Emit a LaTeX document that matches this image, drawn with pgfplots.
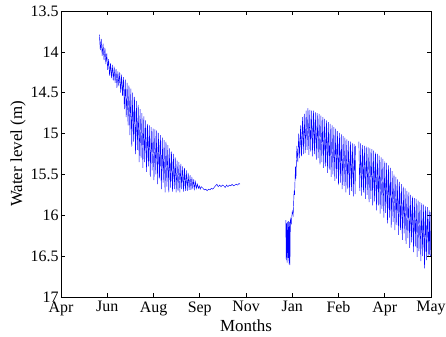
\documentclass[border=0pt]{standalone}
\usepackage{pgfplots}
\pgfplotsset{compat=1.18}
\usepackage{fontspec}
\setmainfont{Liberation Serif}
\begin{document}
\begin{tikzpicture}
\path[use as bounding box] (-61bp,-40bp) rectangle (385bp,297bp);
\begin{axis}[
  at={(0,0)}, anchor=south west,
  scale only axis, width=370bp, height=286bp,
  xmin=0, xmax=8, ymin=13.5, ymax=17,
  y dir=reverse,
  xtick={0,1,2,3,4,5,6,7,8},
  xticklabels={Apr,Jun,Aug,Sep,Nov,Jan,Feb,Apr,May},
  ytick={13.5,14,14.5,15,15.5,16,16.5,17},
  yticklabels={13.5,14,14.5,15,15.5,16,16.5,17},
  tick align=inside, major tick length=4bp,
  xtick pos=both, ytick pos=both,
  tick style={black, line width=0.6pt},
  axis line style={black, line width=0.6pt},
  xlabel={Months}, ylabel={Water level (m)},
  every tick label/.append style={font=\fontsize{16}{18}\selectfont},
  label style={font=\fontsize{17}{19}\selectfont},
  xlabel style={yshift=3bp},
  ylabel style={yshift=-2bp},
  xticklabel style={yshift=-1bp},
  yticklabel style={xshift=1bp},
  unbounded coords=jump,
  /pgf/number format/assume math mode=true,
]
\addplot[blue, line width=0.45pt] coordinates {
(0.83,13.79)(0.85,13.98)(0.87,13.84)(0.89,14.05)(0.91,13.90)(0.93,14.10)(0.95,13.95)(0.97,14.15)(0.99,14.02)(1.01,14.22)
(1.03,14.09)(1.05,14.29)(1.07,14.14)(1.09,14.32)(1.11,14.16)(1.13,14.35)(1.15,14.18)(1.17,14.38)(1.19,14.21)(1.21,14.44)
(1.23,14.24)(1.25,14.42)(1.27,14.25)(1.29,14.50)(1.31,14.28)(1.33,14.54)(1.35,14.31)(1.37,14.70)(1.39,14.34)(1.41,14.80)
(1.43,14.38)(1.45,14.90)(1.47,14.41)(1.49,15.02)(1.51,14.45)(1.53,15.16)(1.55,14.50)(1.57,15.10)(1.59,14.55)(1.61,15.25)
(1.63,14.60)(1.65,15.20)(1.67,14.65)(1.69,15.35)(1.71,14.70)(1.73,15.30)(1.75,14.75)(1.77,15.42)(1.79,14.79)(1.81,15.35)
(1.83,14.84)(1.85,15.47)(1.87,14.88)(1.89,15.40)(1.91,14.90)(1.93,15.53)(1.95,14.92)(1.97,15.45)(1.99,14.94)(2.01,15.57)
(2.03,14.95)(2.05,15.50)(2.07,14.96)(2.09,15.62)(2.11,14.99)(2.13,15.55)(2.15,15.02)(2.17,15.68)(2.19,15.05)(2.21,15.60)
(2.23,15.08)(2.25,15.72)(2.27,15.10)(2.29,15.65)(2.31,15.14)(2.33,15.72)(2.35,15.18)(2.37,15.66)(2.39,15.22)(2.41,15.71)
(2.43,15.25)(2.45,15.68)(2.47,15.29)(2.49,15.72)(2.51,15.33)(2.53,15.70)(2.55,15.35)(2.57,15.72)(2.59,15.37)(2.61,15.68)
(2.63,15.40)(2.65,15.71)(2.67,15.42)(2.69,15.70)(2.71,15.45)(2.73,15.70)(2.75,15.48)(2.77,15.69)(2.79,15.51)(2.81,15.69)
(2.83,15.53)(2.85,15.68)(2.87,15.56)(2.89,15.68)(2.91,15.59)(2.93,15.67)(2.95,15.62)(2.97,15.67)(2.99,15.64)(3.01,15.68)
(3.03,15.65)(3.07,15.67)(3.10,15.69)(3.13,15.68)(3.16,15.70)(3.19,15.68)(3.22,15.69)(3.25,15.67)(3.28,15.68)(3.31,15.66)
(3.34,15.64)(3.37,15.62)(3.40,15.65)(3.43,15.63)(3.46,15.65)(3.49,15.63)(3.52,15.64)(3.55,15.66)(3.58,15.63)(3.61,15.65)
(3.64,15.63)(3.67,15.64)(3.70,15.62)(3.73,15.64)(3.76,15.63)(3.79,15.62)(3.82,15.63)(3.85,15.61)(3.87,15.62)
(4.40,nan)
(4.86,16.06)(4.87,16.55)(4.88,16.10)(4.89,16.58)(4.90,16.08)(4.91,16.52)(4.92,16.07)(4.93,16.60)(4.94,16.08)(4.95,16.61)
(4.96,16.05)(4.98,16.10)(5.00,15.95)(5.02,16.00)(5.04,15.70)(5.05,15.75)(5.07,15.40)(5.08,15.55)(5.10,15.15)(5.12,15.35)
(5.14,15.00)(5.16,15.30)(5.18,14.90)(5.20,15.28)(5.22,14.80)(5.24,15.25)(5.26,14.76)(5.28,15.24)(5.30,14.72)(5.32,15.20)
(5.34,14.69)(5.36,15.26)(5.38,14.71)(5.40,15.22)(5.42,14.72)(5.44,15.28)(5.46,14.72)(5.48,15.25)(5.50,14.74)(5.52,15.32)
(5.54,14.75)(5.56,15.30)(5.58,14.76)(5.60,15.38)(5.62,14.78)(5.64,15.35)(5.66,14.80)(5.68,15.42)(5.70,14.82)(5.72,15.40)
(5.74,14.84)(5.76,15.48)(5.78,14.86)(5.80,15.44)(5.82,14.88)(5.84,15.53)(5.86,14.90)(5.88,15.50)(5.90,14.92)(5.92,15.58)
(5.94,14.94)(5.96,15.55)(5.98,14.97)(6.00,15.63)(6.02,14.99)(6.04,15.60)(6.06,15.01)(6.08,15.68)(6.10,15.03)(6.12,15.64)
(6.14,15.05)(6.16,15.72)(6.18,15.07)(6.20,15.68)(6.22,15.09)(6.24,15.75)(6.26,15.10)(6.28,15.70)(6.30,15.12)(6.32,15.77)
(6.34,15.13)(6.36,15.74)(6.37,15.15)
(6.40,nan)
(6.44,15.10)(6.46,15.70)(6.48,15.12)(6.50,15.76)(6.52,15.14)(6.54,15.72)(6.56,15.15)(6.58,15.80)(6.60,15.16)(6.62,15.75)
(6.64,15.17)(6.66,15.84)(6.68,15.18)(6.70,15.80)(6.72,15.19)(6.74,15.88)(6.76,15.21)(6.78,15.83)(6.80,15.23)(6.82,15.94)
(6.84,15.25)(6.86,15.88)(6.88,15.27)(6.90,15.98)(6.92,15.29)(6.94,15.92)(6.96,15.31)(6.98,16.03)(7.00,15.34)(7.02,15.97)
(7.04,15.36)(7.06,16.10)(7.08,15.39)(7.10,16.03)(7.12,15.42)(7.14,16.15)(7.16,15.46)(7.18,16.08)(7.20,15.50)(7.22,16.18)
(7.24,15.53)(7.26,16.12)(7.28,15.56)(7.30,16.24)(7.32,15.59)(7.34,16.18)(7.36,15.62)(7.38,16.30)(7.40,15.65)(7.42,16.22)
(7.44,15.67)(7.46,16.35)(7.48,15.70)(7.50,16.28)(7.52,15.72)(7.54,16.40)(7.56,15.75)(7.58,16.33)(7.60,15.77)(7.62,16.45)
(7.64,15.79)(7.66,16.38)(7.68,15.80)(7.70,16.51)(7.72,15.82)(7.74,16.44)(7.76,15.84)(7.78,16.56)(7.80,15.85)(7.82,16.50)
(7.84,15.87)(7.86,16.65)(7.88,15.89)(7.90,16.55)(7.92,15.90)(7.94,16.50)(7.96,15.94)(7.97,16.48)(7.98,15.96)(7.99,16.50)
};
\end{axis}
\end{tikzpicture}
\end{document}
